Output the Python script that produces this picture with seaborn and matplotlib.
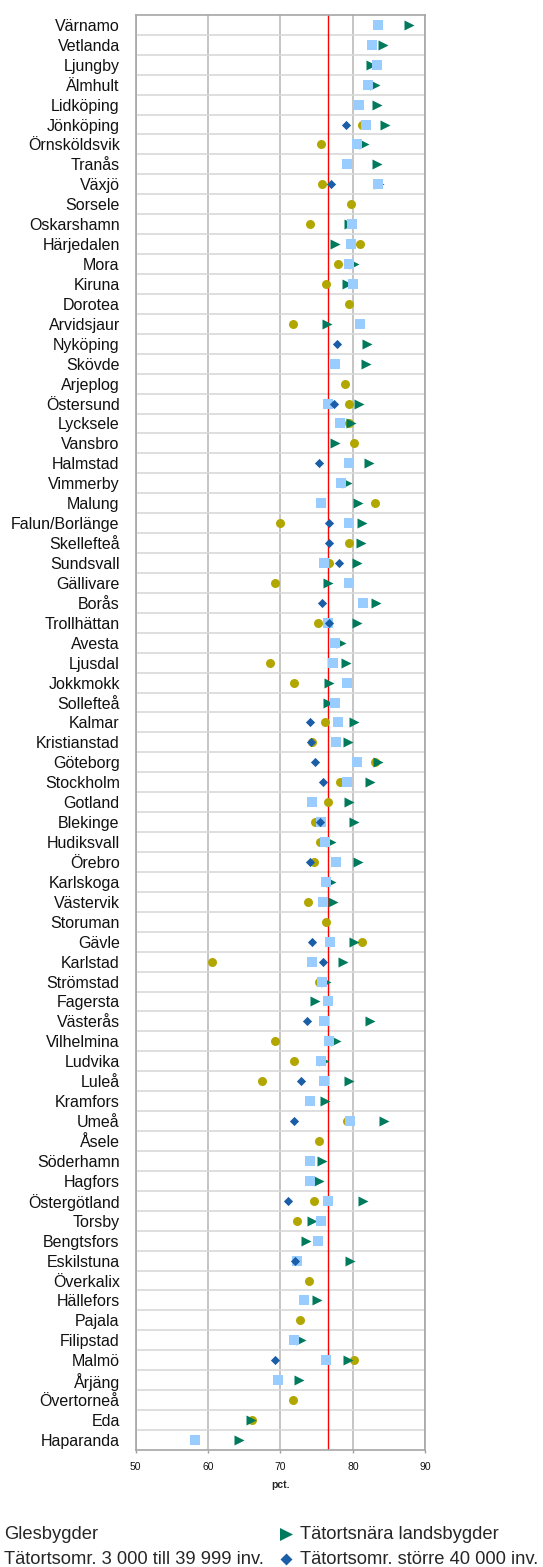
import numpy as np
import matplotlib
matplotlib.use("Agg")
import matplotlib.pyplot as plt
import seaborn as sns

nan = np.nan

# ---------- DATA ----------
KOMMUNER = [
    "Värnamo", "Vetlanda", "Ljungby", "Älmhult", "Lidköping", "Jönköping",
    "Örnsköldsvik", "Tranås", "Växjö", "Sorsele", "Oskarshamn", "Härjedalen",
    "Mora", "Kiruna", "Dorotea", "Arvidsjaur", "Nyköping", "Skövde",
    "Arjeplog", "Östersund", "Lycksele", "Vansbro", "Halmstad", "Vimmerby",
    "Malung", "Falun/Borlänge", "Skellefteå", "Sundsvall", "Gällivare", "Borås",
    "Trollhättan", "Avesta", "Ljusdal", "Jokkmokk", "Sollefteå", "Kalmar",
    "Kristianstad", "Göteborg", "Stockholm", "Gotland", "Blekinge", "Hudiksvall",
    "Örebro", "Karlskoga", "Västervik", "Storuman", "Gävle", "Karlstad",
    "Strömstad", "Fagersta", "Västerås", "Vilhelmina", "Ludvika", "Luleå",
    "Kramfors", "Umeå", "Åsele", "Söderhamn", "Hagfors", "Östergötland",
    "Torsby", "Bengtsfors", "Eskilstuna", "Överkalix", "Hällefors", "Pajala",
    "Filipstad", "Malmö", "Årjäng", "Övertorneå", "Eda", "Haparanda",
]

GLESBYGD = [
    nan, nan, nan, nan, nan, 81.2, 75.6, nan, 75.7, 79.8, 74.1, 81.0,
    77.9, 76.3, 79.4, 71.7, nan, nan, 78.9, 79.4, 79.5, 80.1, nan, nan,
    83.1, 70.0, 79.5, 76.7, 69.3, nan, 75.2, nan, 68.5, 71.8, nan, 76.2,
    74.3, 83.1, 78.2, 76.6, 74.7, 75.5, 74.6, nan, 73.8, 76.3, 81.2, 60.6,
    75.3, nan, nan, 69.3, 71.8, 67.5, nan, 79.2, 75.3, nan, nan, 74.6,
    72.3, nan, nan, 74.0, nan, 72.7, nan, 80.1, nan, 71.7, 66.1, nan,
]

TATORTSNARA = [
    87.8, 84.1, 82.5, 83.0, 83.4, 84.5, 81.6, 83.3, 83.6, nan, 79.4, 77.5,
    80.1, 79.2, nan, 76.4, 81.9, 81.8, nan, 80.9, 79.7, 77.5, 82.2, 79.2,
    80.7, 81.2, 81.1, 80.6, 76.5, 83.2, 80.6, 78.4, 79.0, 76.7, 76.5, 80.1,
    79.3, 83.5, 82.3, 79.5, 80.1, 77.0, 80.7, 77.0, 77.2, nan, 80.1, 78.6,
    76.3, 74.7, 82.3, 77.7, 76.0, 79.4, 76.2, 84.3, nan, 75.8, 75.3, 81.4,
    74.3, 73.5, 79.6, nan, 75.0, nan, 72.8, 79.3, 72.6, nan, 65.9, 64.3,
]

TATORT_MELLAN = [
    83.5, 82.6, 83.3, 82.1, 80.8, 81.8, 80.5, 79.2, 83.5, nan, 79.9, 79.7,
    79.5, 80.0, nan, 81.0, nan, 77.5, nan, 76.5, 78.2, nan, 79.5, 78.3,
    75.6, 79.5, nan, 76.0, 79.5, 81.4, 76.5, 77.5, 77.2, 79.2, 77.5, 77.9,
    77.6, 80.6, 79.2, 74.4, 75.6, 76.2, 77.6, 76.3, 75.9, nan, 76.9, 74.4,
    75.8, 76.5, 76.0, 76.7, 75.6, 76.0, 74.1, 79.6, nan, 74.1, 74.1, 76.5,
    75.6, 75.2, 72.3, nan, 73.2, nan, 71.9, 76.3, 69.6, nan, nan, 58.2,
]

TATORT_STOR = [
    nan, nan, nan, nan, nan, 79.0, nan, nan, 77.0, nan, nan, nan,
    nan, nan, nan, nan, 77.8, nan, nan, 77.4, nan, nan, 75.3, nan,
    nan, 76.7, 76.7, 78.1, nan, 75.7, 76.7, nan, nan, nan, nan, 74.1,
    74.2, 74.8, 75.9, nan, 75.4, nan, 74.1, nan, nan, nan, 74.3, 75.9,
    nan, nan, 73.6, nan, nan, 72.9, nan, 71.8, nan, nan, nan, 71.0,
    nan, nan, 72.0, nan, nan, nan, nan, 69.3, nan, nan, nan, nan,
]

RIKSSNITT = 76.5
XTICKS = [50, 60, 70, 80, 90]

# (label, values, marker, colour, size) -- plotted bottom to top
SERIER = [
    ("Glesbygder", GLESBYGD, "o", "#b2a700", 42),
    ("Tätortsnära landsbygder", TATORTSNARA, ">", "#007a5c", 52),
    ("Tätortsomr. 3 000 till 39 999 inv.", TATORT_MELLAN, "s", "#99ccff", 42),
    ("Tätortsomr. större 40 000 inv.", TATORT_STOR, "D", "#1b5ea8", 22),
]

# ---------- PLOT ----------
sns.set_theme(style="white")
plt.rcParams["font.family"] = ["Liberation Sans", "DejaVu Sans"]

fig = plt.figure(figsize=(5.43, 15.67), dpi=100)
ax = fig.add_axes([0.2499, 0.0747, 0.5333, 0.9158])

pos = np.arange(len(KOMMUNER))
for label, values, marker, color, s in SERIER:
    vals = np.array(values, dtype=float)
    ok = ~np.isnan(vals)
    sns.scatterplot(x=vals[ok], y=pos[ok], marker=marker, color=color, s=s,
                    linewidth=0, label=label, ax=ax, zorder=3)

ax.axvline(RIKSSNITT, color="#ff0000", lw=1, zorder=2)

ax.set_xlim(50, 90)
ax.set_xticks(XTICKS)
ax.set_ylim(len(KOMMUNER) - 0.5, -0.5)
ax.set_yticks(pos)
ax.set_yticklabels(KOMMUNER, fontsize=11.5, color="#111111")
ax.set_yticks(pos[:-1] + 0.5, minor=True)

ax.set_axisbelow(True)
ax.grid(axis="y", which="major", visible=False)
ax.grid(axis="y", which="minor", color="#d9d9d9", lw=1.2)
ax.grid(axis="x", which="major", color="#c0c0c0", lw=1.3)
ax.tick_params(axis="y", which="both", length=0, pad=11.5, left=False)
ax.tick_params(axis="x", length=2.5, width=1, color="#a0a0a0", labelsize=7.5,
               pad=6, bottom=True, labelcolor="#111111")
for sp in ax.spines.values():
    sp.set_color("#a6a6a6")
    sp.set_linewidth(1.2)

ax.set_xlabel("pct.", fontsize=7.5, fontweight="bold", labelpad=6)
ax.set_ylabel("")

if ax.get_legend() is not None:
    ax.get_legend().remove()
handles, labels = ax.get_legend_handles_labels()
order = [0, 2, 1, 3]
fig.legend([handles[i] for i in order], [labels[i] for i in order],
           ncol=2, loc="upper left", bbox_to_anchor=(-0.0332, 0.026),
           frameon=False, fontsize=13.2, handlelength=0.8, handletextpad=0.4,
           columnspacing=0.79, labelspacing=0.42, borderpad=0, borderaxespad=0,
           scatterpoints=1, markerscale=1.3)

fig.savefig("out.png", dpi=100)
